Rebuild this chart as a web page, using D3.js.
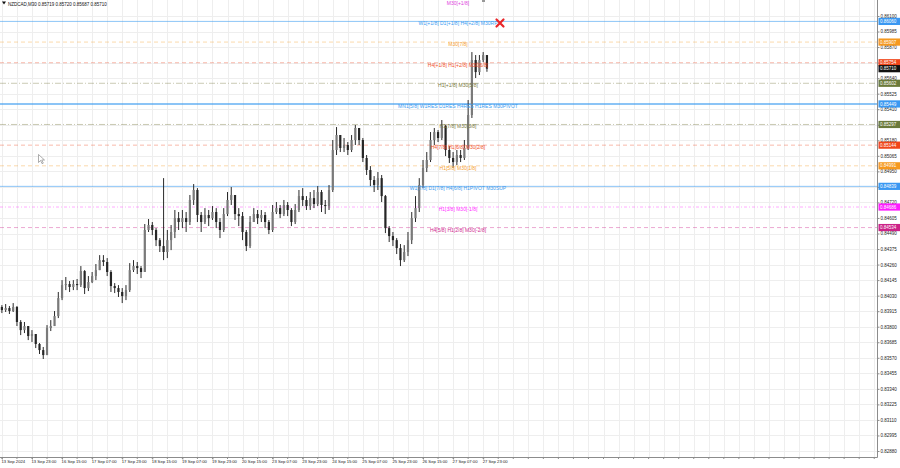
<!DOCTYPE html>
<html><head><meta charset="utf-8">
<script src="https://cdn.jsdelivr.net/npm/d3@7"></script>
<style>
body{margin:0;background:#fff}
svg{display:block}
text{font-family:"Liberation Sans",Arial,sans-serif}
</style>
</head><body>
<svg id="c" width="900" height="468"></svg>
<script>
// ---------- DATA ----------
const symbolTitle = "NZDCAD,M30  0.85719 0.85720 0.85687 0.85710";
const firstOpen = 0.83946;
const closes = [
0.83923,0.83938,0.83916,0.83946,0.83835,0.83775,0.83805,0.83731,0.83746,0.83672,
0.83627,0.83590,0.83790,0.83805,0.83879,0.84012,0.84108,0.84116,0.84094,0.84116,
0.84108,0.84212,0.84086,0.84131,0.84175,0.84219,0.84293,0.84279,0.84205,0.84101,
0.84086,0.84057,0.84027,0.84071,0.84219,0.84249,0.84234,0.84205,0.84516,0.84553,
0.84516,0.84441,0.84397,0.84353,0.84441,0.84501,0.84604,0.84575,0.84604,0.84575,
0.84738,0.84812,0.84627,0.84575,0.84627,0.84604,0.84649,0.84575,0.84516,0.84634,
0.84738,0.84775,0.84634,0.84619,0.84501,0.84397,0.84575,0.84634,0.84604,0.84627,
0.84575,0.84516,0.84649,0.84678,0.84634,0.84701,0.84664,0.84575,0.84664,0.84767,
0.84738,0.84693,0.84752,0.84708,0.84797,0.84701,0.84693,0.84812,0.85108,0.85219,
0.85123,0.85145,0.85108,0.85182,0.85271,0.85182,0.85049,0.84960,0.84886,0.84849,
0.84900,0.84767,0.84530,0.84471,0.84441,0.84382,0.84293,0.84353,0.84441,0.84604,
0.84678,0.84849,0.84975,0.85034,0.85182,0.85241,0.85197,0.85286,0.85108,0.85049,
0.85019,0.85071,0.85049,0.85123,0.85367,0.85774,0.85685,0.85774,0.85811,0.85710];
const highs = [
0.83960,0.83968,0.83953,0.83975,0.83953,0.83849,0.83835,0.83790,0.83775,0.83731,
0.83679,0.83650,0.83812,0.83849,0.83916,0.84057,0.84145,0.84168,0.84138,0.84145,
0.84153,0.84249,0.84219,0.84175,0.84205,0.84264,0.84330,0.84330,0.84308,0.84219,
0.84123,0.84108,0.84086,0.84108,0.84271,0.84293,0.84279,0.84249,0.84560,0.84597,
0.84575,0.84530,0.84456,0.84900,0.84516,0.84553,0.84664,0.84649,0.84664,0.84649,
0.84775,0.84856,0.84826,0.84649,0.84678,0.84664,0.84693,0.84678,0.84604,0.84678,
0.84797,0.84834,0.84775,0.84678,0.84649,0.84516,0.84619,0.84678,0.84664,0.84664,
0.84649,0.84590,0.84701,0.84723,0.84701,0.84738,0.84723,0.84678,0.84708,0.84812,
0.84826,0.84767,0.84797,0.84812,0.84841,0.84812,0.84738,0.84849,0.85182,0.85278,
0.85197,0.85197,0.85167,0.85219,0.85293,0.85271,0.85197,0.85071,0.84989,0.84915,
0.84945,0.84923,0.84775,0.84545,0.84501,0.84456,0.84412,0.84404,0.84501,0.84649,
0.84767,0.84900,0.85034,0.85093,0.85241,0.85271,0.85256,0.85330,0.85293,0.85137,
0.85093,0.85108,0.85108,0.85182,0.85478,0.85833,0.85811,0.85811,0.85833,0.85811];
const lows = [
0.83901,0.83909,0.83894,0.83909,0.83805,0.83738,0.83753,0.83701,0.83687,0.83642,
0.83598,0.83561,0.83627,0.83768,0.83835,0.83864,0.83997,0.84071,0.84057,0.84071,
0.84071,0.84094,0.84042,0.84064,0.84123,0.84145,0.84219,0.84249,0.84175,0.84057,
0.84049,0.84020,0.83975,0.83997,0.84057,0.84205,0.84190,0.84160,0.84330,0.84501,
0.84478,0.84397,0.84353,0.84293,0.84308,0.84367,0.84456,0.84516,0.84530,0.84501,
0.84553,0.84701,0.84575,0.84501,0.84560,0.84545,0.84590,0.84530,0.84456,0.84501,
0.84619,0.84701,0.84590,0.84545,0.84441,0.84360,0.84382,0.84575,0.84560,0.84575,
0.84530,0.84486,0.84501,0.84634,0.84604,0.84619,0.84619,0.84545,0.84560,0.84649,
0.84693,0.84664,0.84664,0.84678,0.84693,0.84649,0.84634,0.84664,0.84797,0.85071,
0.85093,0.85093,0.85071,0.85093,0.85145,0.85145,0.85019,0.84923,0.84841,0.84797,
0.84812,0.84723,0.84493,0.84427,0.84397,0.84338,0.84249,0.84279,0.84323,0.84412,
0.84575,0.84649,0.84826,0.84945,0.85019,0.85145,0.85167,0.85182,0.85063,0.85012,
0.84975,0.84997,0.85019,0.85034,0.85108,0.85345,0.85641,0.85663,0.85759,0.85687];
const timeLabels = ["13 Sep 2024","13 Sep 23:00","16 Sep 15:00","17 Sep 07:00","17 Sep 23:00",
"18 Sep 15:00","19 Sep 07:00","19 Sep 23:00","20 Sep 15:00","23 Sep 07:00","23 Sep 23:00",
"24 Sep 15:00","25 Sep 07:00","25 Sep 23:00","26 Sep 15:00","27 Sep 07:00","27 Sep 23:00"];
const timeLabelBars = [0,8,16,24,32,40,48,56,64,72,80,88,96,104,112,120,128];
const priceTicks = [0.86100,0.85985,0.85870,0.85755,0.85640,0.85525,0.85410,0.85295,0.85180,
0.85065,0.84950,0.84835,0.84720,0.84605,0.84490,0.84375,0.84260,0.84145,0.84030,0.83915,
0.83800,0.83685,0.83570,0.83455,0.83340,0.83225,0.83110,0.82995,0.82880];
const levelPrices = [0.86212,0.86060,0.85907,0.85754,0.85602,0.85449,0.85297,0.85144,0.84991,0.84839,0.84686,0.84534];
const levelNames = ["M30[+1/8]","W1[+1/8] D1[+1/8] H4[+2/8] M30RP","M30[7/8]","H4[+1/8] H1[+2/8] M30[6/8]",
"H1[+1/8] M30[5/8]","MN1[5/8] W1RES D1RES H4RES H1RES M30PIVOT","H1[7/8] M30[3/8]",
"H4[7/8] H1[6/8] M30[2/8]","H1[5/8] M30[1/8]","W1[7/8] D1[7/8] H4[6/8] H1PIVOT M30SUP",
"H1[3/8] M30[-1/8]","H4[5/8] H1[2/8] M30[-2/8]"];
const lastPrice = 0.85710;

// ---------- STYLES ----------
const levelColors = ["#e040e0","#3d9cf0","#f5a030","#f0502a","#7a7a40","#3d9cf0","#7a7a40","#f0502a","#f5a030","#3d9cf0","#ff30ff","#d02a90"];
const boxColors   = ["#e040e0","#3a98f2","#f5991f","#f0461a","#6b7a3a","#3a98f2","#6b7a3a","#f0461a","#f5991f","#3a98f2","#ff1cff","#cc2288"];
const levelDash   = ["4,3",null,"4,3","4,3","6,2,1,2",null,"6,2,1,2","4,3","4,3",null,"3,2,1,2","4,3"];
const levelWidth  = [1,1,1,1,1,2,1,1,1,1,1,1];

// ---------- CHART ----------
const W=900,H=468, plotR=877, plotB=457;
const svg=d3.select("#c");
const n=closes.length;
const x=d3.scaleLinear().domain([0,1]).range([1.9,1.9+3.76]);
const y=d3.scaleLinear().domain([0.82880,0.86100]).range([451,16]);

// grid
const grid=svg.append("g");
const nGridV=Math.floor((plotR-1.9)/(4*3.76));
grid.selectAll("line.v").data(d3.range(0,nGridV+1)).join("line")
  .attr("x1",d=>Math.round(x(d*4))+0.5).attr("x2",d=>Math.round(x(d*4))+0.5)
  .attr("y1",0).attr("y2",plotB).attr("stroke","#eeeeee").attr("stroke-width",1);
grid.selectAll("line.h").data(priceTicks).join("line")
  .attr("x1",0).attr("x2",plotR).attr("y1",d=>Math.round(y(d))+0.5).attr("y2",d=>Math.round(y(d))+0.5)
  .attr("stroke","#eeeeee").attr("stroke-width",1);

// level lines (the top one lies above the visible area)
const lv=svg.append("g");
levelPrices.forEach((p,i)=>{
  if(y(p)<4) return;
  lv.append("line").attr("x1",0).attr("x2",plotR).attr("y1",y(p)).attr("y2",y(p))
    .attr("stroke",levelColors[i]).attr("stroke-width",levelWidth[i])
    .attr("stroke-opacity",levelDash[i]?0.4:0.6)
    .attr("stroke-dasharray",levelDash[i]);
});

// candles
const cg=svg.append("g");
const bars=d3.range(n).map(i=>({i,o:i?closes[i-1]:firstOpen,c:closes[i],h:highs[i],l:lows[i]}));
cg.selectAll("line").data(bars).join("line")
  .attr("x1",d=>x(d.i)).attr("x2",d=>x(d.i))
  .attr("y1",d=>y(Math.max(d.h,d.o,d.c))).attr("y2",d=>y(Math.min(d.l,d.o,d.c)))
  .attr("stroke","#2a2a2a").attr("stroke-width",1);
cg.selectAll("rect").data(bars).join("rect")
  .attr("x",d=>x(d.i)-1.1).attr("width",2.2)
  .attr("y",d=>y(Math.max(d.o,d.c))).attr("height",d=>Math.max(0.8,Math.abs(y(d.o)-y(d.c))))
  .attr("fill",d=>d.c>=d.o?"#7a7a7a":"#262626");

// level labels
const lt=svg.append("g").attr("font-size",5).attr("text-anchor","middle");
levelPrices.forEach((p,i)=>{
  lt.append("text").attr("x",458).attr("y",y(p)+4).attr("fill",levelColors[i]).text(levelNames[i]);
});

// red cross
svg.append("path").attr("d","M496.5,19.5L503.5,26.5M503.5,19.5L496.5,26.5")
  .attr("stroke","#e8262a").attr("stroke-width",2.2).attr("stroke-linecap","round");
svg.append("rect").attr("x",482).attr("y",0).attr("width",3).attr("height",2).attr("fill","#999");

// mouse cursor
svg.append("path").attr("d","M38.5,154.5l0,8l2,-2l1.6,3.2l1.2,-0.6l-1.6,-3.1l2.8,0z")
  .attr("fill","#fff").attr("stroke","#777").attr("stroke-width",0.6);

// axes frame
svg.append("line").attr("x1",plotR+0.5).attr("x2",plotR+0.5).attr("y1",0).attr("y2",plotB+0.5).attr("stroke","#8c8c8c");
svg.append("line").attr("x1",0).attr("x2",plotR+0.5).attr("y1",plotB+0.5).attr("y2",plotB+0.5).attr("stroke","#8c8c8c");

// right axis
const ra=svg.append("g").attr("transform",`translate(${plotR+0.5},0)`);
const yAxis=d3.axisRight(y).tickValues(priceTicks).tickFormat(d3.format(".5f")).tickSize(2).tickPadding(1);
ra.call(yAxis);
ra.select(".domain").remove();
ra.selectAll(".tick line").attr("stroke","#8c8c8c");
ra.selectAll(".tick text").attr("font-size",4.5).attr("fill","#222").attr("font-family","Liberation Sans, Arial, sans-serif");

// bottom axis
const ba=svg.append("g").attr("transform",`translate(0,${plotB+0.5})`);
const xAxis=d3.axisBottom(x).tickValues(timeLabelBars).tickFormat((d,i)=>timeLabels[i]).tickSize(2).tickPadding(1);
ba.call(xAxis);
ba.select(".domain").remove();
ba.selectAll(".tick line").attr("stroke","#8c8c8c");
ba.selectAll(".tick text").attr("font-size",4.2).attr("fill","#222").attr("text-anchor","start")
  .attr("font-family","Liberation Sans, Arial, sans-serif").attr("dx",-1);
ba.selectAll("line.minor").data(d3.range(0,nGridV+1)).join("line")
  .attr("x1",d=>x(d*4)).attr("x2",d=>x(d*4)).attr("y1",0).attr("y2",1.5).attr("stroke","#8c8c8c");

// price boxes
const bx=svg.append("g");
levelPrices.forEach((p,i)=>{
  if(y(p)<6) return;
  bx.append("rect").attr("x",plotR+1.5).attr("y",y(p)-3.6).attr("width",W-plotR-1.5).attr("height",7.2).attr("fill",boxColors[i]);
  bx.append("text").attr("x",plotR+3).attr("y",y(p)+1.6).attr("font-size",4.5).attr("fill","#fff").text(d3.format(".5f")(p));
});
bx.append("rect").attr("x",plotR+1.5).attr("y",y(lastPrice)-3.6).attr("width",W-plotR-1.5).attr("height",7.2).attr("fill","#111");
bx.append("text").attr("x",plotR+3).attr("y",y(lastPrice)+1.6).attr("font-size",4.5).attr("fill","#fff").text(d3.format(".5f")(lastPrice));

// title
svg.append("path").attr("d","M2,1.5L6,1.5L4,4.5Z").attr("fill","#111");
svg.append("text").attr("x",8).attr("y",5.5).attr("font-size",4.5).attr("fill","#111").text(symbolTitle);
</script>
</body></html>
